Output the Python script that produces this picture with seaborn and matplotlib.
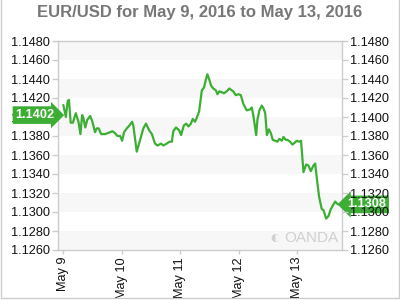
import numpy as np
import pandas as pd
import matplotlib
matplotlib.use("Agg")
import matplotlib.pyplot as plt
import seaborn as sns
from matplotlib.lines import Line2D

title = "EUR/USD for May 9, 2016 to May 13, 2016"
tick_labels = ["May 9", "May 10", "May 11", "May 12", "May 13"]
tick_hours = [0, 24, 48, 72, 96]
y_ticks = [1.1260, 1.1280, 1.1300, 1.1320, 1.1340, 1.1360, 1.1380, 1.1400, 1.1420, 1.1440, 1.1460, 1.1480]
open_label = 1.1402
last_label = 1.1308

hours = [0, 1.0, 1.8, 2.3, 3.0, 3.9, 5.1, 6.2, 7.0, 7.7, 8.2, 9.0, 9.8, 11.0, 11.8,
         13.0, 13.7, 14.5, 15.5, 17.1, 19.2, 20.1, 21.2, 22.2, 23.3, 24.1, 24.9, 26.0,
         27.1, 28.2, 28.7, 30.1, 31.5, 32.8, 33.9, 35.2, 36.3, 37.6, 38.6, 40.1, 41.0,
         42.4, 43.5, 44.5, 45.1, 46.2, 47.5, 48.3, 49.4, 50.4, 51.3, 52.3, 53.1, 54.0,
         54.7, 55.7, 56.8, 57.7, 58.4, 59.1, 59.9, 60.6, 61.5, 62.6, 63.2, 64.0, 65.0,
         65.9, 67.0, 68.1, 69.1, 69.7, 70.7, 71.8, 72.8, 73.8, 75.2, 76.6, 77.3, 77.9,
         79.1, 79.6, 80.4, 81.4, 82.1, 82.8, 83.5, 84.3, 85.1, 85.9, 86.9, 87.8, 88.6,
         89.6, 90.3, 91.2, 91.9, 93.0, 94.0, 94.9, 95.8, 96.7, 97.5, 98.5, 99.6, 100.5,
         101.5, 102.6, 103.3, 104.0, 104.9, 106.0, 106.7, 107.8, 108.8, 109.7, 110.8,
         111.5, 112.2, 112.8]
rates = [1.14126, 1.1400, 1.1417, 1.1418, 1.1394, 1.1394, 1.1404, 1.1395, 1.1382,
         1.1402, 1.1399, 1.1389, 1.1397, 1.1401, 1.1396, 1.1384, 1.1388, 1.1388,
         1.1382, 1.1382, 1.1384, 1.1385, 1.1383, 1.1380, 1.1380, 1.1375, 1.1384,
         1.1388, 1.1391, 1.1395, 1.1391, 1.13635, 1.1376, 1.1388, 1.1393, 1.1386,
         1.1382, 1.1372, 1.1370, 1.1372, 1.1370, 1.1372, 1.1374, 1.1374, 1.1385,
         1.1389, 1.1386, 1.1381, 1.1391, 1.1393, 1.1390, 1.1393, 1.1398, 1.1395,
         1.1399, 1.1406, 1.1428, 1.1431, 1.1439, 1.1445, 1.1439, 1.1433, 1.1430,
         1.1428, 1.1424, 1.1427, 1.1426, 1.1425, 1.1427, 1.1430, 1.1428, 1.1427,
         1.1423, 1.1424, 1.1423, 1.1414, 1.1407, 1.1408, 1.1410, 1.1402, 1.1381,
         1.1397, 1.1407, 1.1412, 1.1409, 1.1404, 1.1381, 1.1387, 1.1383, 1.1376,
         1.1375, 1.1374, 1.1377, 1.1375, 1.1379, 1.1376, 1.1376, 1.1374, 1.1371,
         1.1373, 1.1375, 1.1374, 1.1375, 1.1342, 1.1350, 1.1349, 1.1343, 1.1349,
         1.1351, 1.1335, 1.1316, 1.1303, 1.1302, 1.1293, 1.1296, 1.1303, 1.1308,
         1.1311, 1.1309, 1.1308]

df = pd.DataFrame({"hour": hours, "rate": rates})

sns.set_theme(style="white")
plt.rcParams["font.family"] = ["Liberation Sans", "DejaVu Sans"]

green = "#3cae34"
frame = "#cccccc"
fs = 9.2

fig = plt.figure(figsize=(4, 3), dpi=100)
ax = fig.add_axes([58 / 400, 1 - 250 / 300, 284 / 400, 209 / 300])

# alternating bands
for i in range(len(y_ticks) - 1):
    if (len(y_ticks) - 2 - i) % 2 == 0:
        ax.axhspan(y_ticks[i], y_ticks[i + 1], color="#f7f7f7", lw=0, zorder=0)

sns.lineplot(data=df, x="hour", y="rate", ax=ax, color=green, lw=1.6, zorder=3)

ax.set_xlim(-2.2, 114.3)
ax.set_ylim(y_ticks[0], y_ticks[-1])
ax.set_yticks(y_ticks)
ax.set_yticklabels([f"{v:.4f}" for v in y_ticks])
ax.set_xticks(tick_hours)
ax.set_xticklabels(tick_labels, rotation=90)
ax.set_xlabel("")
ax.set_ylabel("")
for s in ax.spines.values():
    s.set_color(frame)
    s.set_linewidth(1)
ax.tick_params(axis="y", which="both", left=True, length=4, width=1, color=frame,
               labelsize=fs, labelcolor="#111111", pad=2)
ax.tick_params(axis="x", bottom=True, length=3, width=1, color=frame,
               labelsize=fs, labelcolor="#111111", pad=2)

ax2 = ax.twinx()
ax2.set_ylim(ax.get_ylim())
ax2.set_yticks(y_ticks)
ax2.set_yticklabels([f"{v:.4f}" for v in y_ticks])
ax2.tick_params(axis="y", right=True, length=4, width=1, color=frame,
                labelsize=fs, labelcolor="#111111", pad=2)
for s in ax2.spines.values():
    s.set_visible(False)
ax2.grid(False)

# price flags
ax.text(-0.012, open_label, f"{open_label:.4f}", transform=ax.get_yaxis_transform(),
        ha="right", va="center", color="white", fontsize=fs, fontweight="bold",
        bbox=dict(boxstyle="rarrow,pad=0.22", fc=green, ec="none"), zorder=5, clip_on=False)
ax.text(1.018, last_label, f"{last_label:.4f}", transform=ax.get_yaxis_transform(),
        ha="left", va="center", color="white", fontsize=fs, fontweight="bold",
        bbox=dict(boxstyle="larrow,pad=0.22", fc=green, ec="none"), zorder=5, clip_on=False)

# watermark
fig.text(275 / 400, 1 - 238 / 300, "\u25d0", color="#d0d0d0", fontsize=13, ha="center", va="center")
fig.text(284 / 400, 1 - 238 / 300, "OANDA", color="#d0d0d0", fontsize=11, ha="left", va="center")

fig.suptitle(title, x=0.5, y=1 - 13 / 300, va="center", fontsize=12, fontweight="bold", color="#777777")

# outer frame (left, right, bottom)
fig.add_artist(Line2D([0.5 / 400, 0.5 / 400], [1 - 297.5 / 300, 1], color=frame, lw=1, transform=fig.transFigure))
fig.add_artist(Line2D([398.5 / 400, 398.5 / 400], [1 - 297.5 / 300, 1], color=frame, lw=1, transform=fig.transFigure))
fig.add_artist(Line2D([0.5 / 400, 398.5 / 400], [1 - 297.5 / 300, 1 - 297.5 / 300], color=frame, lw=1, transform=fig.transFigure))

fig.savefig("out.png", dpi=100)
